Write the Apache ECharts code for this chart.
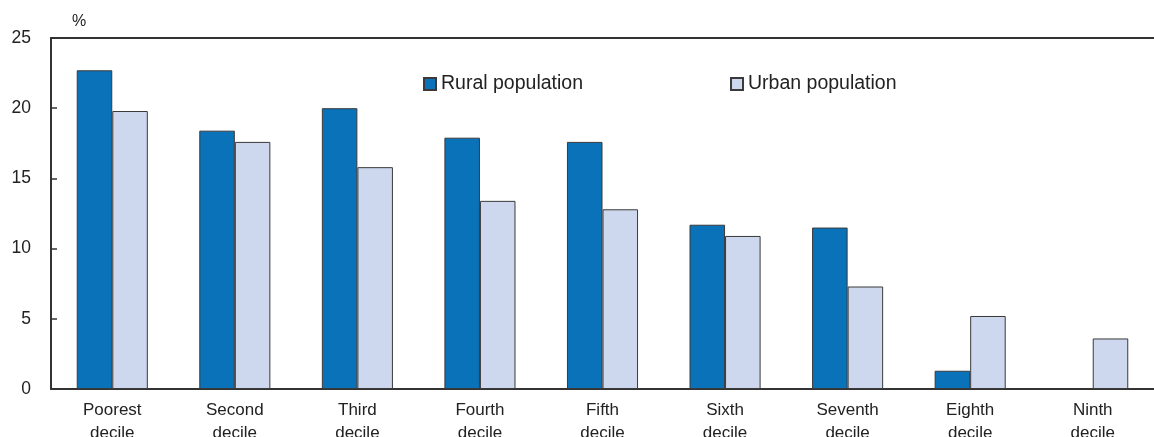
<!DOCTYPE html>
<html>
<head>
<meta charset="utf-8">
<script src="https://cdn.jsdelivr.net/npm/echarts@6/dist/echarts.min.js"></script>
<style>html,body{margin:0;padding:0;background:#fff;}#c{width:1154px;height:437px;}</style>
</head>
<body>
<div id="c"></div>
<script>
const categories = ["Poorest\ndecile","Second\ndecile","Third\ndecile","Fourth\ndecile","Fifth\ndecile","Sixth\ndecile","Seventh\ndecile","Eighth\ndecile","Ninth\ndecile"];
const rural = [22.7, 18.4, 20.0, 17.9, 17.6, 11.7, 11.5, 1.3, null];
const urban = [19.8, 17.6, 15.8, 13.4, 12.8, 10.9, 7.3, 5.2, 3.6];
const seriesNames = ["Rural population", "Urban population"];

const chart = echarts.init(document.getElementById('c'));
const font = 'Liberation Sans, Arial, sans-serif';
chart.setOption({
  animation: false,
  textStyle: {fontFamily: font},
  grid: {left: 51, right: 0, top: 38, bottom: 48, outerBoundsMode: 'none', containLabel: false},
  legend: {
    top: 69, left: 418, itemGap: 147, itemWidth: 12, itemHeight: 12,
    icon: 'rect',
    textStyle: {fontSize: 19.5, color: '#222', fontFamily: font},
    data: seriesNames
  },
  xAxis: [{
    type: 'category', data: categories,
    axisLine: {lineStyle: {color: '#333', width: 2}},
    axisTick: {show: false},
    axisLabel: {fontSize: 17, color: '#222', lineHeight: 23, margin: 10, interval: 0}
  }, {
    type: 'category', data: categories, position: 'top',
    axisLine: {show: true, lineStyle: {color: '#333', width: 2}},
    axisTick: {show: false}, axisLabel: {show: false}
  }],
  yAxis: {
    type: 'value', min: 0, max: 25, interval: 5,
    name: '%', nameLocation: 'end', nameGap: 8,
    nameTextStyle: {fontSize: 16, color: '#222', align: 'left', padding: [0,0,0,21]},
    axisLine: {show: true, lineStyle: {color: '#333', width: 2}},
    axisTick: {show: true, inside: true, length: 6, lineStyle: {color: '#333', width: 1.5}},
    splitLine: {show: false},
    axisLabel: {fontSize: 17.5, color: '#222', margin: 20, align: 'right'}
  },
  series: [{
    name: seriesNames[0], type: 'bar', data: rural, barGap: '0%', barCategoryGap: '42%',
    itemStyle: {color: '#0a72b8', borderColor: '#3a3a3a', borderWidth: 1}
  }, {
    name: seriesNames[1], type: 'bar', data: urban,
    itemStyle: {color: '#cdd7ee', borderColor: '#3a3a3a', borderWidth: 1}
  }]
});
</script>
</body>
</html>
